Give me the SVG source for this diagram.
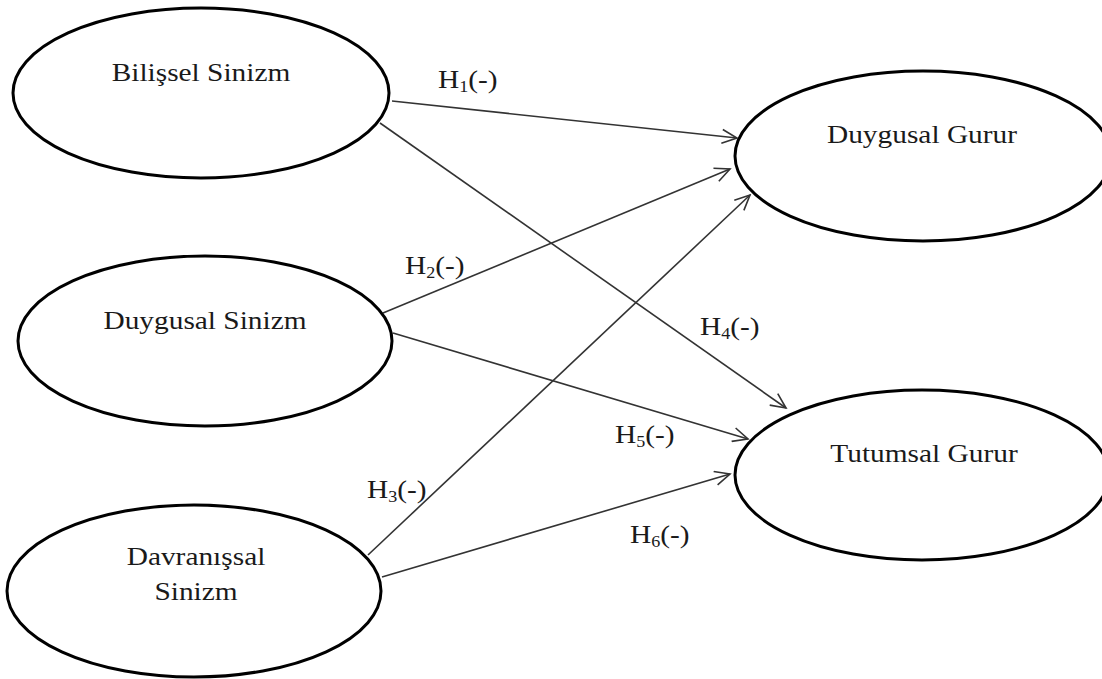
<svg xmlns="http://www.w3.org/2000/svg" width="1102" height="679" viewBox="0 0 1102 679">
<style>
.node ellipse{fill:#fff;stroke:#000;stroke-width:3}
.t{font-family:"Liberation Serif","Times New Roman",serif;font-size:26px;fill:#1a1a1a}
.m{text-anchor:middle}
.sub{font-size:16px}
.edge{stroke:#333;stroke-width:1.6;fill:none;marker-end:url(#arr)}
</style>
<defs>
<marker id="arr" markerUnits="userSpaceOnUse" markerWidth="20" markerHeight="16" refX="16" refY="8" orient="auto" viewBox="0 0 20 16">
<path d="M1,1 L16,8 L1,15" fill="none" stroke="#333" stroke-width="1.6"/>
</marker>
</defs>
<rect width="1102" height="679" fill="#fff"/>
<g id="connectors">
<line class="edge" x1="392" y1="101" x2="737" y2="138"/>
<line class="edge" x1="380" y1="123" x2="786" y2="408"/>
<line class="edge" x1="383" y1="313" x2="730" y2="169"/>
<line class="edge" x1="393" y1="333" x2="748" y2="439"/>
<line class="edge" x1="368" y1="555" x2="750" y2="195"/>
<line class="edge" x1="382" y1="577" x2="730" y2="474"/>
</g>
<g id="node-bilissel" class="node">
<ellipse cx="201" cy="93" rx="188" ry="85"/>
<text class="t m" transform="translate(201,81) scale(1.13,1)">Bilişsel Sinizm</text>
</g>
<g id="node-duygusal-sinizm" class="node">
<ellipse cx="205" cy="341" rx="187" ry="85"/>
<text class="t m" transform="translate(205,329) scale(1.13,1)">Duygusal Sinizm</text>
</g>
<g id="node-davranissal" class="node">
<ellipse cx="194" cy="591" rx="187" ry="86"/>
<text class="t m" transform="translate(196,565) scale(1.13,1)">Davranışsal</text>
<text class="t m" transform="translate(196,600) scale(1.13,1)">Sinizm</text>
</g>
<g id="node-duygusal-gurur" class="node">
<ellipse cx="923" cy="156" rx="188" ry="85"/>
<text class="t m" transform="translate(922,143) scale(1.13,1)">Duygusal Gurur</text>
</g>
<g id="node-tutumsal-gurur" class="node">
<ellipse cx="922" cy="475" rx="187" ry="85"/>
<text class="t m" transform="translate(924,462) scale(1.13,1)">Tutumsal Gurur</text>
</g>
<g id="labels">
<text class="t" transform="translate(438,88) scale(1.13,1)">H<tspan class="sub" dy="4">1</tspan><tspan dy="-4">(-)</tspan></text>
<text class="t" transform="translate(405,274) scale(1.13,1)">H<tspan class="sub" dy="4">2</tspan><tspan dy="-4">(-)</tspan></text>
<text class="t" transform="translate(367,498) scale(1.13,1)">H<tspan class="sub" dy="4">3</tspan><tspan dy="-4">(-)</tspan></text>
<text class="t" transform="translate(700,335) scale(1.13,1)">H<tspan class="sub" dy="4">4</tspan><tspan dy="-4">(-)</tspan></text>
<text class="t" transform="translate(615,443) scale(1.13,1)">H<tspan class="sub" dy="4">5</tspan><tspan dy="-4">(-)</tspan></text>
<text class="t" transform="translate(630,543) scale(1.13,1)">H<tspan class="sub" dy="4">6</tspan><tspan dy="-4">(-)</tspan></text>
</g>
</svg>
